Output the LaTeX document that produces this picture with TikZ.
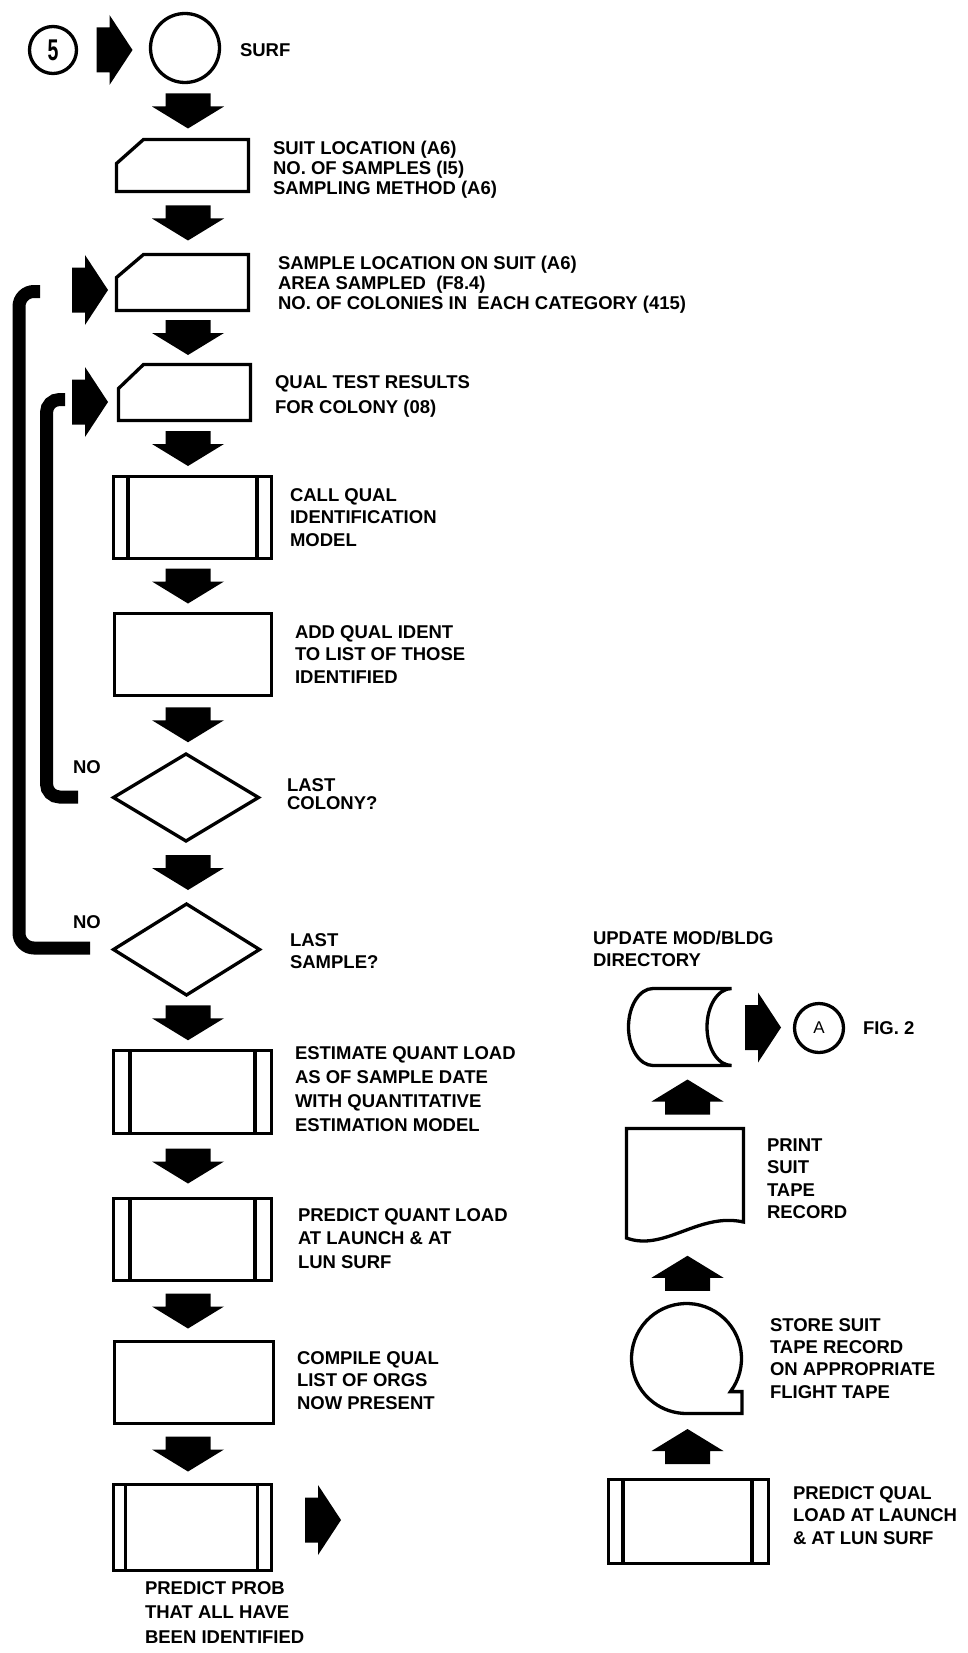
\documentclass[tikz,border=0pt]{standalone}
\usepackage{fontspec}
\setmainfont{Liberation Sans}
\usetikzlibrary{calc}
\newcommand{\arrDn}[2]{\fill let \p1=($(#1.south)!0.5!(#2.north)$) in (188pt,\y1) ++(-22.5,-17.5) -- ++(45,0) -- ++(0,13) -- ++(13.5,0) -- ++(-36,22) -- ++(-36,-22) -- ++(13.5,0) -- cycle;}
\newcommand{\arrUp}[2]{\fill let \p1=($(#1.north)!0.5!(#2.south)$) in (687.5pt,\y1) ++(-22.5,17.5) -- ++(45,0) -- ++(0,-13) -- ++(13.5,0) -- ++(-36,-22) -- ++(-36,22) -- ++(13.5,0) -- cycle;}
\newcommand{\arrRt}[1]{\fill #1 ++(0,-22.5) -- ++(13,0) -- ++(0,-12.5) -- ++(23,35) -- ++(-23,35) -- ++(0,-12.5) -- ++(-13,0) -- cycle;}
\newcommand{\inshape}[3]{\draw[shp] ($(#1.north west)+(#2,0)$) -- (#1.north east) -- (#1.south east) -- (#1.south west) -- ($(#1.north west)+(0,#3)$) -- cycle;}
\newcommand{\ppbars}[3]{\draw[shp] ($(#1.north west)+(#2,0)$) -- ($(#1.south west)+(#2,0)$) ($(#1.north east)+(-#3,0)$) -- ($(#1.south east)+(-#3,0)$);}
\newcommand{\dshape}[1]{\draw[shp] (#1.north) -- (#1.east) -- (#1.south) -- (#1.west) -- cycle;}
\begin{document}
\begin{tikzpicture}[x=1pt,y=-1pt,
  every node/.style={inner sep=0pt, outer sep=0pt},
  shp/.style={line width=3.3pt},
  ph/.style={anchor=north west},
  box/.style={ph, draw, shp},
  lbl/.style={anchor=north west, align=left, font=\fontsize{18.5}{#1}\selectfont\bfseries},
  lbl/.default=22.5,
  loopline/.style={line width=13pt, line cap=butt}]
\fill[white] (0,0) rectangle (968,1653);
\useasboundingbox (0,0) rectangle (968,1653);

% ---------- left column ----------
\node[draw, shp, circle, minimum size=47pt] (c5) at (53,50) {\fontsize{30}{30}\selectfont\bfseries\scalebox{0.65}[1]{5}};
\node[draw, shp, circle, minimum size=69pt] (surf) at (185,48) {};
\node[lbl] (tsurf) at (240,43.4) {SURF};

\node[ph, minimum width=132pt, minimum height=52pt] (in1) at (116.5,139.5) {};
\inshape{in1}{27}{24}
\node[lbl=20] (tin1) at (273,141) {SUIT LOCATION (A6)\\NO. OF SAMPLES (I5)\\SAMPLING METHOD (A6)};

\node[ph, minimum width=132pt, minimum height=56pt] (in2) at (116.5,254.5) {};
\inshape{in2}{27}{23}
\node[lbl=20] (tin2) at (278,256) {SAMPLE LOCATION ON SUIT (A6)\\AREA SAMPLED\ \ (F8.4)\\NO. OF COLONIES IN\ \ EACH CATEGORY (415)};

\node[ph, minimum width=132pt, minimum height=56pt] (in3) at (118.5,364.5) {};
\inshape{in3}{25}{24}
\node[lbl=25] (tin3) at (275,375.4) {QUAL TEST RESULTS\\FOR COLONY (08)};

\node[box, minimum width=158pt, minimum height=82pt] (pp1) at (113.5,476.5) {};
\ppbars{pp1}{14.5}{14.5}
\node[lbl] (tpp1) at (290,488.4) {CALL QUAL\\IDENTIFICATION\\MODEL};

\node[box, minimum width=157pt, minimum height=82pt] (pr1) at (114.5,613.5) {};
\node[lbl] (tpr1) at (295,625.4) {ADD QUAL IDENT\\TO LIST OF THOSE\\IDENTIFIED};

\node[minimum width=145pt, minimum height=87pt] (d1) at (186,797.5) {};
\dshape{d1}
\node[lbl=18.5] (td1) at (287,778.4) {LAST\\COLONY?};

\node[minimum width=146pt, minimum height=91pt] (d2) at (186.5,949.5) {};
\dshape{d2}
\node[lbl=22] (td2) at (290,933.4) {LAST\\SAMPLE?};

\node[box, minimum width=158pt, minimum height=83pt] (pp2) at (113.5,1050.5) {};
\ppbars{pp2}{16.5}{16.5}
\node[lbl=24] (tpp2) at (295,1046.4) {ESTIMATE QUANT LOAD\\AS OF SAMPLE DATE\\WITH QUANTITATIVE\\ESTIMATION MODEL};

\node[box, minimum width=158pt, minimum height=82pt] (pp3) at (113.5,1198.5) {};
\ppbars{pp3}{16.5}{16.5}
\node[lbl=23.5] (tpp3) at (298,1208.4) {PREDICT QUANT LOAD\\AT LAUNCH \& AT\\LUN SURF};

\node[box, minimum width=159pt, minimum height=82pt] (pr2) at (114.5,1341.5) {};
\node[lbl] (tpr2) at (297,1351.4) {COMPILE QUAL\\LIST OF ORGS\\NOW PRESENT};

\node[box, minimum width=158pt, minimum height=86pt] (pp4) at (113.5,1484.5) {};
\ppbars{pp4}{12}{14}
\node[lbl=24.5] (tpp4) at (145,1581.4) {PREDICT PROB\\THAT ALL HAVE\\BEEN IDENTIFIED};

% down arrows
\arrRt{($(c5.east)!0.5!(surf.west)+(-17,1)$)}
\arrDn{surf}{in1}
\arrDn{in1}{in2}
\arrDn{in2}{in3}
\arrDn{in3}{pp1}
\arrDn{pp1}{pr1}
\arrDn{pr1}{d1}
\arrDn{d1}{d2}
\arrDn{d2}{pp2}
\arrDn{pp2}{pp3}
\arrDn{pp3}{pr2}
\arrDn{pr2}{pp4}
\arrRt{($(pp4.east)+(33.5,-7.5)$)}

% loops
\coordinate (lo1) at (40,291.5);
\coordinate (lo2) at (90,948);
\coordinate (li1) at (65,399.5);
\coordinate (li2) at (78,797);
\draw[loopline, rounded corners=15pt] (lo2) -- (19,948) -- (19,291.5) -- (lo1);
\draw[loopline, rounded corners=13pt] (li2) -- (46.5,797) -- (46.5,399.5) -- (li1);
\arrRt{(72,290)}
\arrRt{(72,402)}
\node[font=\fontsize{18.5}{18.5}\selectfont\bfseries] (no1) at (87,767) {NO};
\node[font=\fontsize{18.5}{18.5}\selectfont\bfseries] (no2) at (87,922) {NO};

% ---------- right column ----------
\node[ph, minimum width=103pt, minimum height=77pt] (stor) at (628.5,988.5) {};
\draw[shp] (653,988.5) -- (731.5,988.5) arc[start angle=270, end angle=90, x radius=24.5, y radius=38.5] -- (653,1065.5) arc[start angle=90, end angle=270, x radius=24.5, y radius=38.5] -- cycle;
\node[lbl=22] (tstor) at (593,931.4) {UPDATE MOD/BLDG\\DIRECTORY};
\node[draw, shp, circle, minimum size=49pt] (ca) at (819,1028) {\fontsize{17}{17}\selectfont A};
\node[lbl] (tfig) at (863,1021.4) {FIG. 2};
\arrRt{($(stor.east)!0.5!(ca.west)+(-18,0)$)}

\node[ph, minimum width=117pt, minimum height=114.5pt] (doc) at (626.5,1128.5) {};
\draw[shp] (doc.north west) -- (doc.north east) -- ($(doc.south east)+(0,-21)$) .. controls ($(doc.south east)+(-45,-31)$) and ($(doc.south west)+(38,9)$) .. ($(doc.south west)+(0,-5)$) -- cycle;
\node[lbl] (tdoc) at (767,1138.4) {PRINT\\SUIT\\TAPE\\RECORD};

\node[circle, minimum size=110pt] (tape) at (686.5,1358.5) {};
\draw[shp] ($(tape.center)+(37:55)$) arc[start angle=37, end angle=-270, radius=55] -- (742,1413.5) -- (742,1391.6) -- cycle;
\node[lbl=22.3] (ttape) at (770,1318.4) {STORE SUIT\\TAPE RECORD\\ON APPROPRIATE\\FLIGHT TAPE};

\node[box, minimum width=160pt, minimum height=84pt] (pp5) at (608.5,1479.5) {};
\ppbars{pp5}{14.5}{16.5}
\node[lbl] (tpp5) at (793,1486.4) {PREDICT QUAL\\LOAD AT LAUNCH\\\& AT LUN SURF};

\arrUp{pp5}{tape}
\arrUp{tape}{doc}
\arrUp{doc}{stor}
\end{tikzpicture}
\end{document}
